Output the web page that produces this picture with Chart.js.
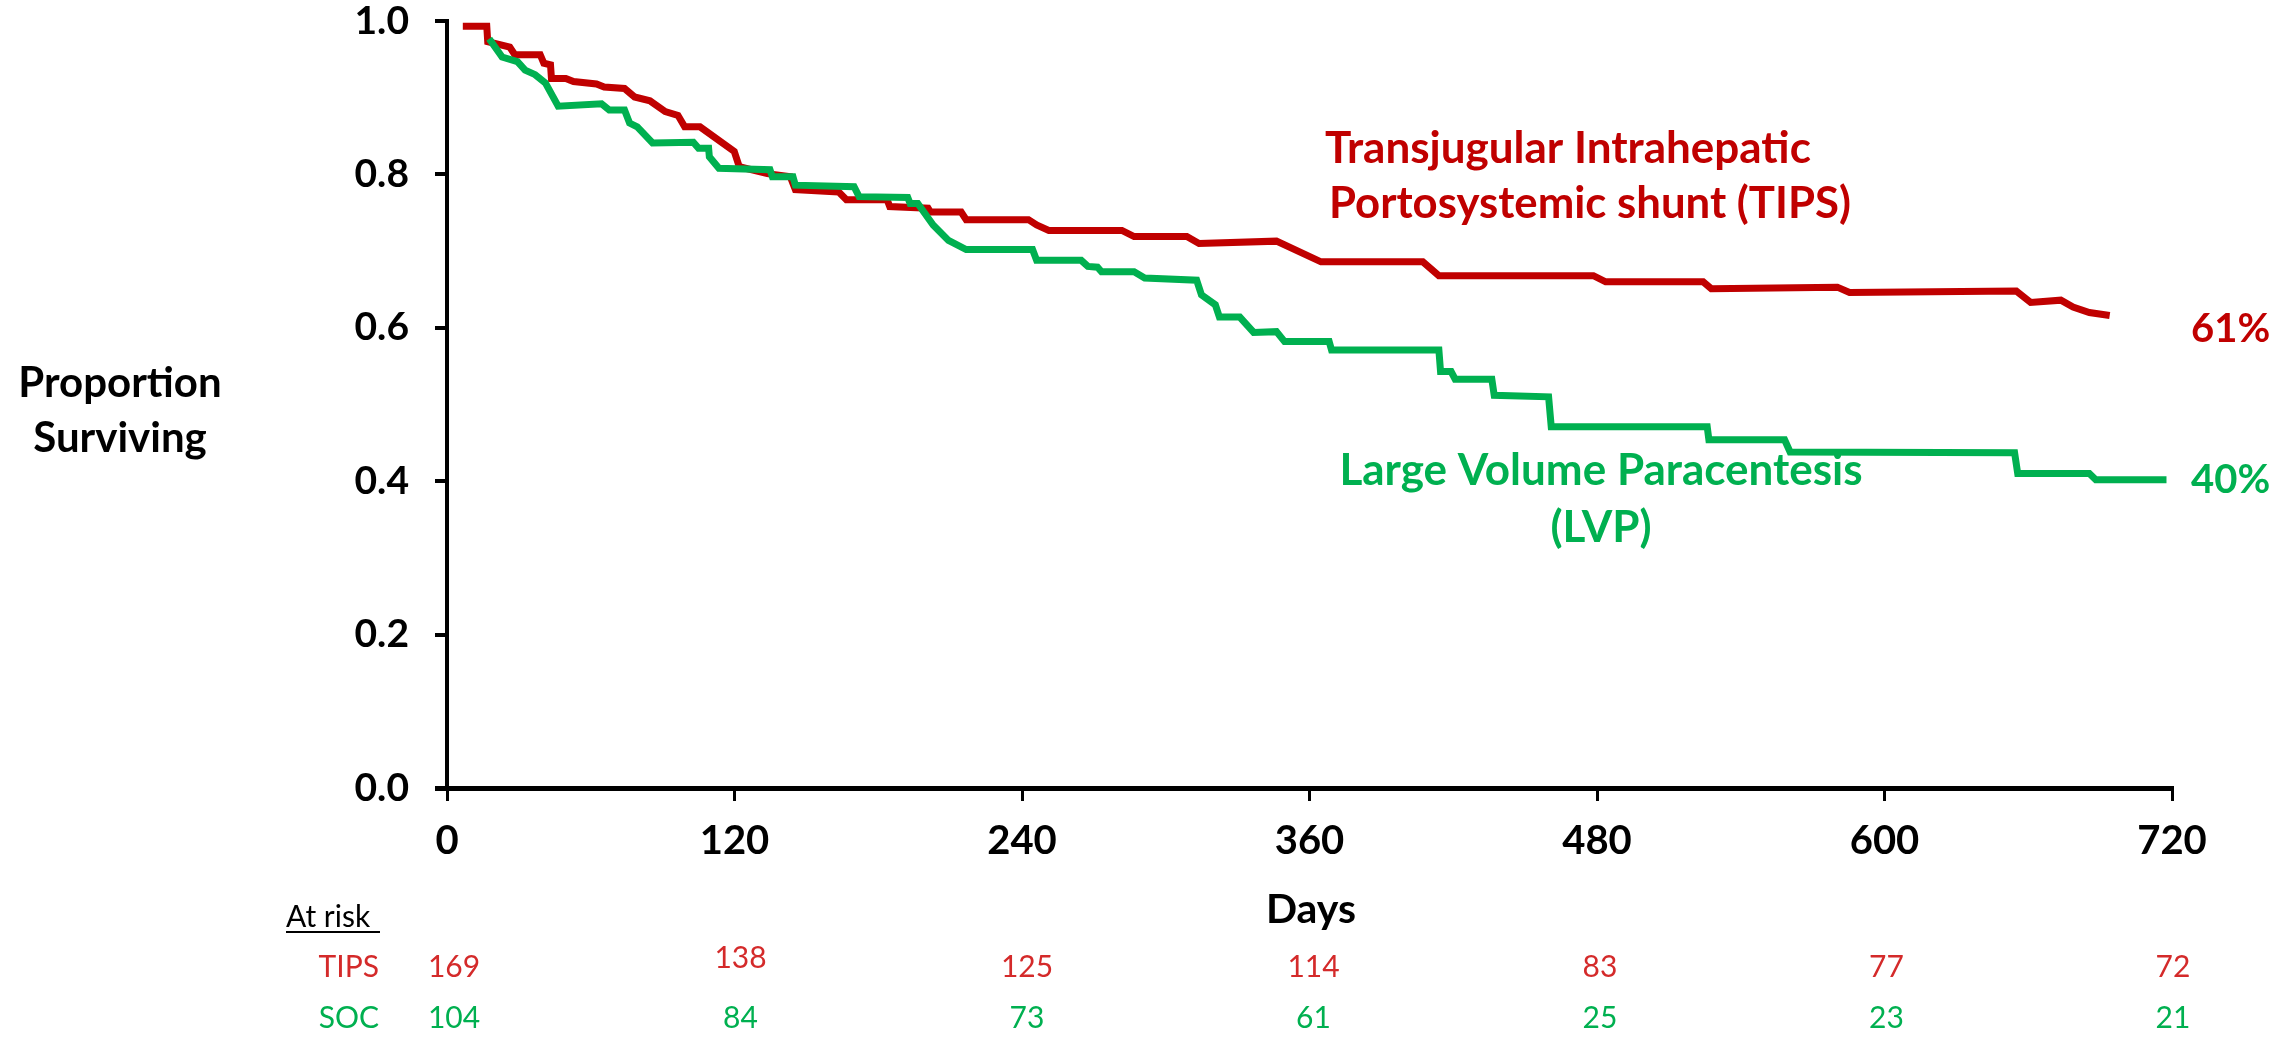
<!DOCTYPE html>
<html>
<head>
<meta charset="utf-8">
<script src="https://cdn.jsdelivr.net/npm/chart.js@4.4.1/dist/chart.umd.min.js"></script>
<style>
  html, body { margin: 0; padding: 0; background: #fff; }
  canvas { display: block; }
</style>
</head>
<body>
<canvas id="kmChart" width="2275" height="1038"></canvas>
<script>
// survival curves: day, proportion surviving
const tipsDays = [6.6, 16.6, 17, 26.2, 28.3, 38.9, 40.4, 43.2, 43.6, 49.6, 52.8, 62.4, 65.6, 74.1, 78.3, 84.7, 91.1, 96.4, 99.2, 105.6,
  119.9, 122, 133.7, 143.3, 145.4, 163.5, 166.7, 183.7, 184.8, 200.8, 201.8, 214.6, 216.7, 242.7, 246.1, 251.2, 281.7, 286.8,
  308.8, 313.9, 346.2, 364.8, 407.3, 414, 478.5, 483.6, 524.3, 527.7, 580.3, 585.4, 655, 661, 673.6, 678.7, 685.5, 694];
const tipsSurv = [0.993, 0.993, 0.973, 0.966, 0.956, 0.956, 0.945, 0.943, 0.925, 0.925, 0.921, 0.918, 0.914, 0.912, 0.901, 0.896, 0.882, 0.877, 0.862, 0.862,
  0.830, 0.810, 0.801, 0.797, 0.780, 0.777, 0.767, 0.767, 0.758, 0.756, 0.751, 0.751, 0.741, 0.741, 0.734, 0.727, 0.727, 0.719,
  0.719, 0.710, 0.713, 0.686, 0.686, 0.668, 0.668, 0.660, 0.660, 0.651, 0.653, 0.646, 0.648, 0.633, 0.636, 0.627, 0.620, 0.616];

const lvpDays = [17.6, 23, 29.4, 32.6, 36.8, 41.1, 46.4, 64.5, 67.7, 74.1, 76.2, 79.4, 85.8, 102.8, 105, 109.2, 109.5, 113.5, 134.8, 135.8,
  144.4, 145.4, 169.9, 172, 192.3, 193.3, 196.5, 202.9, 209.3, 216.7, 244.4, 246.1, 264.7, 267.5, 271.5, 273.2, 286.8, 291.2, 312.9,
  314.9, 320.7, 322.4, 330.9, 336.7, 346.2, 349.6, 368.2, 369.2, 414, 414.7, 419.1, 420.8, 436.1, 437.1, 459.8, 460.9, 526, 526.7,
  558.3, 560.6, 654.3, 655.6, 685.5, 688.2, 717.7];
const lvpSurv = [0.977, 0.953, 0.947, 0.936, 0.930, 0.919, 0.889, 0.892, 0.884, 0.884, 0.867, 0.862, 0.841, 0.842, 0.834, 0.834, 0.823, 0.808, 0.806, 0.797,
  0.797, 0.786, 0.784, 0.771, 0.770, 0.762, 0.762, 0.734, 0.714, 0.702, 0.702, 0.688, 0.688, 0.680, 0.679, 0.673, 0.673, 0.665, 0.662,
  0.643, 0.630, 0.614, 0.614, 0.594, 0.595, 0.582, 0.582, 0.571, 0.571, 0.543, 0.543, 0.533, 0.533, 0.512, 0.510, 0.471, 0.471, 0.454,
  0.454, 0.438, 0.437, 0.410, 0.410, 0.402, 0.402];

const xTickDays = [0, 120, 240, 360, 480, 600, 720];
const xTickLabels = ['0', '120', '240', '360', '480', '600', '720'];
const yTickLabels = ['0.0', '0.2', '0.4', '0.6', '0.8', '1.0'];

const atRiskTips = [169, 138, 125, 114, 83, 77, 72];
const atRiskSoc = [104, 84, 73, 61, 25, 23, 21];

const RED = '#C00000';
const GREEN = '#00B050';
const FONT = 'Lato, "Open Sans", sans-serif';

const toPoints = (days, surv) => days.map((d, i) => ({ x: d, y: surv[i] }));

// labels, percentages and the at-risk table
const annotations = {
    id: 'annotations',
    afterDraw(chart) {
        const ctx = chart.ctx;
        const xs = chart.scales.x;
        const text = (str, x, y, font, color, align, maxW) => {
            ctx.font = font;
            ctx.fillStyle = color;
            ctx.textAlign = align;
            ctx.textBaseline = 'alphabetic';
            if (maxW) ctx.fillText(str, x, y, maxW);
            else ctx.fillText(str, x, y);
        };
        ctx.save();

        // x axis runs a little past the y axis
        ctx.fillStyle = '#000';
        ctx.fillRect(435, chart.chartArea.bottom - 2, 14, 5);

        text('Proportion', 120, 397, 'bold 42px ' + FONT, '#000', 'center', 214);
        text('Surviving', 120, 452, 'bold 42px ' + FONT, '#000', 'center', 180);

        text('Transjugular Intrahepatic', 1325, 163, 'bold 44px ' + FONT, RED, 'left', 495);
        text('Portosystemic shunt (TIPS)', 1329, 218, 'bold 44px ' + FONT, RED, 'left', 522);
        text('Large Volume Paracentesis', 1601, 485, 'bold 44px ' + FONT, GREEN, 'center', 529);
        text('(LVP)', 1601, 542, 'bold 44px ' + FONT, GREEN, 'center');

        text('61%', 2191, 342, 'bold 40px ' + FONT, RED, 'left', 81);
        text('40%', 2191, 493, 'bold 40px ' + FONT, GREEN, 'left', 81);

        text('Days', 1311, 923, 'bold 41px ' + FONT, '#000', 'center');

        text('At risk', 286, 927, '30px ' + FONT, '#000', 'left', 94);
        ctx.fillStyle = '#000';
        ctx.fillRect(286, 931, 94, 2);
        text('TIPS', 379, 977, '30px ' + FONT, '#D42A2A', 'right', 62);
        text('SOC', 379, 1028, '30px ' + FONT, GREEN, 'right', 62);

        xTickDays.forEach((d, i) => {
            const px = xs.getPixelForValue(d) + 7 - i;
            text(String(atRiskTips[i]), px, i === 1 ? 968 : 977, '30px ' + FONT, '#D42A2A', 'center');
            text(String(atRiskSoc[i]), px, 1028, '30px ' + FONT, GREEN, 'center');
        });
        ctx.restore();
    }
};

new Chart(document.getElementById('kmChart'), {
    type: 'line',
    data: {
        datasets: [{
            label: 'TIPS',
            data: toPoints(tipsDays, tipsSurv),
            borderColor: RED,
            borderWidth: 7,
            pointRadius: 0,
            tension: 0,
            order: 2,
            clip: false
        }, {
            label: 'LVP',
            data: toPoints(lvpDays, lvpSurv),
            borderColor: GREEN,
            borderWidth: 7,
            pointRadius: 0,
            tension: 0,
            order: 1,
            clip: false
        }]
    },
    options: {
        responsive: false,
        animation: false,
        events: [],
        layout: { padding: { top: 21, right: 103, left: 0, bottom: 0 } },
        plugins: { legend: { display: false }, tooltip: { enabled: false } },
        scales: {
            x: {
                type: 'linear',
                min: 0,
                max: 720,
                afterBuildTicks: s => { s.ticks = xTickDays.map(v => ({ value: v })); },
                afterFit: s => { s.height = 250; },
                border: { display: true, color: '#000', width: 5 },
                grid: { drawOnChartArea: false, tickLength: 13, lineWidth: 3, color: '#000' },
                ticks: {
                    callback: (v, i) => xTickLabels[i],
                    font: { family: FONT, weight: 'bold', size: 40, lineHeight: 1 },
                    color: '#000',
                    padding: 20,
                    maxRotation: 0,
                    autoSkip: false
                }
            },
            y: {
                min: 0,
                max: 1,
                afterFit: s => {
                    s.width = 447;
                    s.paddingTop = 0;
                    s.paddingBottom = 0;
                },
                border: { display: true, color: '#000', width: 4 },
                grid: { drawOnChartArea: false, tickLength: 12, lineWidth: 4, color: '#000' },
                ticks: {
                    stepSize: 0.2,
                    callback: (v, i) => yTickLabels[i],
                    font: { family: FONT, weight: 'bold', size: 39, lineHeight: 1 },
                    color: '#000',
                    padding: 26
                }
            }
        }
    },
    plugins: [annotations]
});
</script>
</body>
</html>
